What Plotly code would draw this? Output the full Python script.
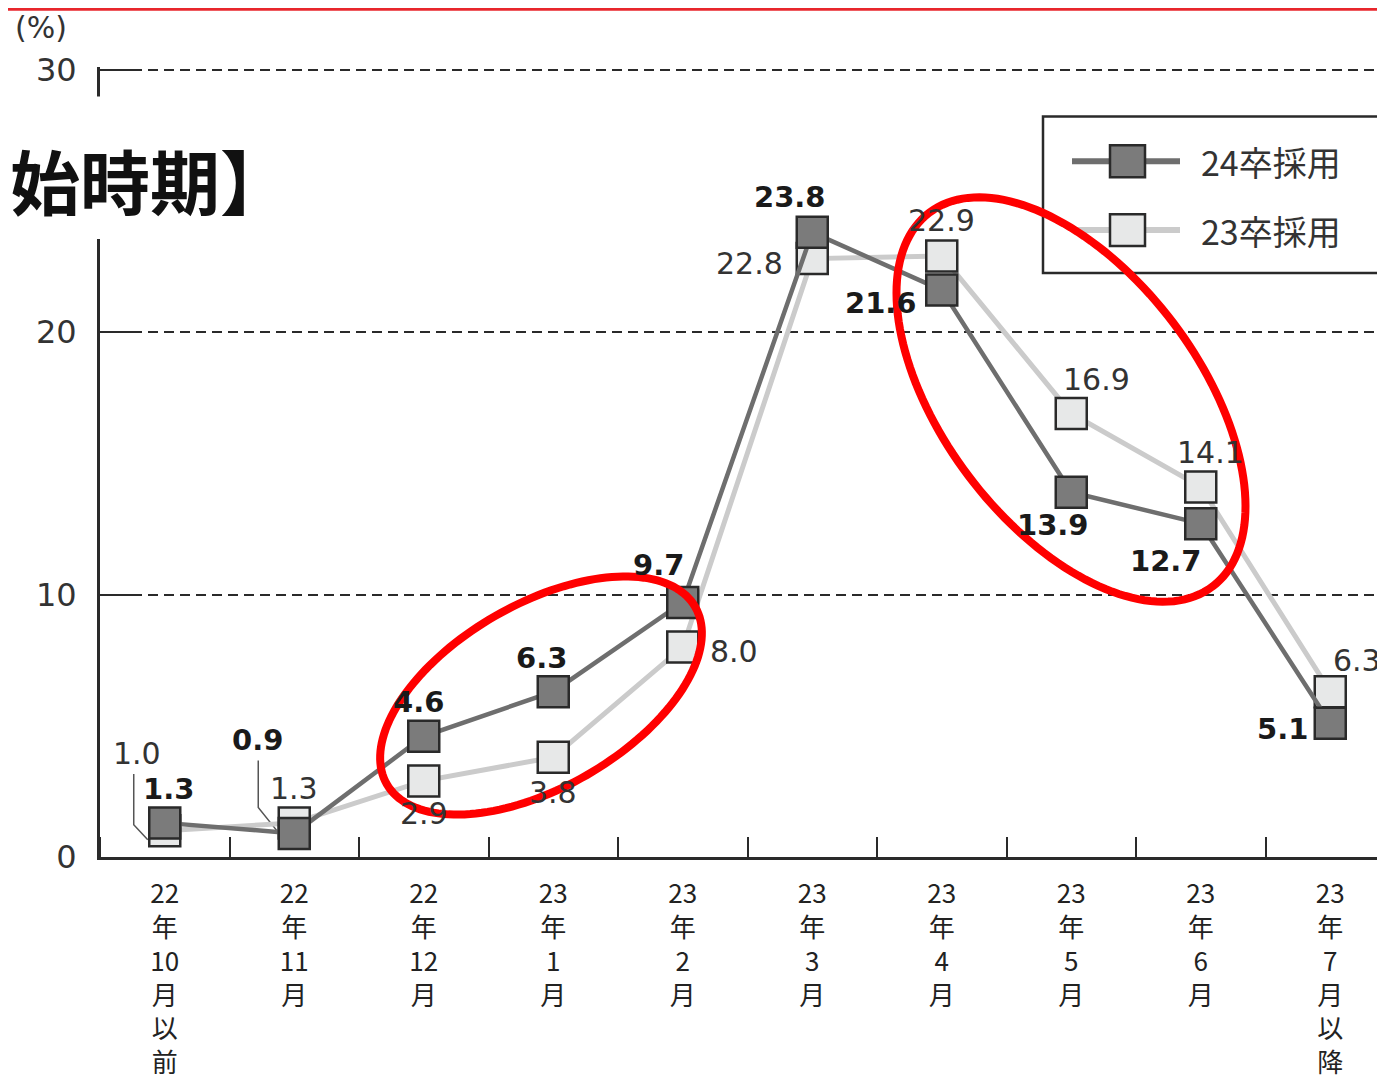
import numpy as np
import plotly.graph_objects as go

# ---------------- data ----------------
categories = [
    "22<br>年<br>10<br>月<br>以<br>前",
    "22<br>年<br>11<br>月",
    "22<br>年<br>12<br>月",
    "23<br>年<br>1<br>月",
    "23<br>年<br>2<br>月",
    "23<br>年<br>3<br>月",
    "23<br>年<br>4<br>月",
    "23<br>年<br>5<br>月",
    "23<br>年<br>6<br>月",
    "23<br>年<br>7<br>月<br>以<br>降",
]
values_24 = [1.3, 0.9, 4.6, 6.3, 9.7, 23.8, 21.6, 13.9, 12.7, 5.1]
values_23 = [1.0, 1.3, 2.9, 3.8, 8.0, 22.8, 22.9, 16.9, 14.1, 6.3]
series_names = ["24卒採用", "23卒採用"]
y_ticks = [0, 10, 20, 30]
y_unit = "(%)"
title_fragment = "始時期】"

# ---------------- layout geometry (screen pixels; page has an 8px body margin) ----------------
OFF = 8
W, H = 1385 - OFF, 1079 - OFF
X_LEFT_S, X_RIGHT_S = 100, 1385          # plot area left/right on screen
Y0_S, Y30_S = 860, 70                     # screen y of value 0 and of value 30
S = (Y0_S - Y30_S) / 30.0                 # px per unit
YMIN, YMAX = 0, 30.1
ML = X_LEFT_S - OFF
MR = 0
PW = X_RIGHT_S - X_LEFT_S
MB = H - (Y0_S - OFF)
PH = (YMAX - YMIN) * S
MT = H - MB - PH
CAT_STEP = 129.5
XMIN = -0.5
XMAX = XMIN + PW / CAT_STEP

def px_x(px):
    return (px - X_LEFT_S) / PW

def px_y(py):
    return (Y0_S - py) / PH

def data_px(i, v):
    return (X_LEFT_S + (i - XMIN) * CAT_STEP, Y0_S - (v - YMIN) * S)

DARK_LINE = "#6e6e6e"
LIGHT_LINE = "#cbcbcb"
DARK_FILL = "#7b7b7b"
LIGHT_FILL = "#e7e8e8"
EDGE = "#2a2a2a"
TXT = "#333333"

x_idx = list(range(len(categories)))

fig = go.Figure()
fig.add_trace(go.Scatter(
    x=x_idx, y=values_23, name=series_names[1], mode="lines+markers",
    line=dict(color=LIGHT_LINE, width=5),
    marker=dict(symbol="square", size=31, color=LIGHT_FILL, line=dict(color=EDGE, width=2.5)),
    showlegend=False,
))
fig.add_trace(go.Scatter(
    x=x_idx, y=values_24, name=series_names[0], mode="lines+markers",
    line=dict(color=DARK_LINE, width=4.5),
    marker=dict(symbol="square", size=31, color=DARK_FILL, line=dict(color=EDGE, width=2.5)),
    showlegend=False,
))

# label offsets (xshift, yshift in px; yshift positive = up)
off_24 = [(4, 34), (-37, 93), (-5, 34), (-12, 34), (-24, 37), (-22, 35), (-61, -13), (-18, -33), (-35, -37), (-48, -6)]
off_23 = [(-28, 77), (0, 34), (0, -33), (0, -35), (51, -4), (-63, -5), (0, 35), (25, 34), (10, 34), (27, 31)]

annotations = []
for i, v in enumerate(values_23):
    dx, dy = off_23[i]
    annotations.append(dict(x=i, y=v, xref="x", yref="y", text=f"{v:.1f}", showarrow=False,
                            xshift=dx, yshift=dy, xanchor="center", yanchor="middle",
                            font=dict(family="DejaVu Sans", size=30, color=TXT)))
for i, v in enumerate(values_24):
    dx, dy = off_24[i]
    annotations.append(dict(x=i, y=v, xref="x", yref="y", text=f"<b>{v:.1f}</b>", showarrow=False,
                            xshift=dx, yshift=dy, xanchor="center", yanchor="middle",
                            font=dict(family="DejaVu Sans", size=29, color="#1a1a1a")))

# unit label
annotations.append(dict(x=px_x(41), y=px_y(28), xref="paper", yref="paper", text=y_unit, showarrow=False,
                        xanchor="center", yanchor="middle",
                        font=dict(family="DejaVu Sans", size=30, color=TXT)))
# title fragment
annotations.append(dict(x=px_x(8), y=px_y(180), xref="paper", yref="paper", text=f"<b>{title_fragment}</b>",
                        showarrow=False, xanchor="left", yanchor="middle",
                        font=dict(family="Noto Sans CJK JP", size=70, color="#111111")))
# legend texts
for yy, name in [(162, series_names[0]), (231, series_names[1])]:
    annotations.append(dict(x=px_x(1199), y=px_y(yy), xref="paper", yref="paper", text=name,
                            showarrow=False, xanchor="left", yanchor="middle",
                            font=dict(family="Noto Sans CJK JP", size=34, color=TXT)))

shapes = []
# white patch interrupting the y axis behind title
shapes.append(dict(type="rect", xref="paper", yref="paper", x0=px_x(85), x1=px_x(115), y0=px_y(240), y1=px_y(97),
                   fillcolor="white", line=dict(width=0), layer="above"))
# red top rule (at the very top of the figure)
shapes.append(dict(type="line", xref="paper", yref="paper", x0=px_x(0), x1=px_x(1400),
                   y0=px_y(OFF + 1.5), y1=px_y(OFF + 1.5),
                   line=dict(color="#e8262c", width=3), layer="above"))

# leader lines
def leader(i, v, pts):
    cx, cy = data_px(i, v)
    path = "M " + " L ".join(f"{px_x(cx + dx):.5f},{px_y(cy + dy):.5f}" for dx, dy in pts)
    return dict(type="path", xref="paper", yref="paper", path=path, line=dict(color="#555555", width=1.5), layer="below")

shapes.append(leader(0, values_23[0], [(-31, -57), (-31, -6), (-17, 9)]))
shapes.append(leader(1, values_24[1], [(-36, -73), (-36, -26), (-16, -1)]))

# legend box
shapes.append(dict(type="rect", xref="paper", yref="paper", x0=px_x(1043), x1=px_x(1395), y0=px_y(274), y1=px_y(117),
                   line=dict(color=EDGE, width=2.5), fillcolor="rgba(0,0,0,0)", layer="above"))
for yy, lc, fc in [(162, DARK_LINE, DARK_FILL), (231, LIGHT_LINE, LIGHT_FILL)]:
    shapes.append(dict(type="line", xref="paper", yref="paper", x0=px_x(1072), x1=px_x(1180), y0=px_y(yy), y1=px_y(yy),
                       line=dict(color=lc, width=6), layer="above"))
    shapes.append(dict(type="rect", xref="paper", yref="paper", x0=px_x(1110), x1=px_x(1145),
                       y0=px_y(yy + 16), y1=px_y(yy - 16),
                       fillcolor=fc, line=dict(color=EDGE, width=2.5), layer="above"))

# red highlight ellipses
def ellipse(cx, cy, a, b, ang_deg, n=160):
    t = np.linspace(0, 2 * np.pi, n, endpoint=False)
    th = np.radians(ang_deg)
    ex = cx + a * np.cos(t) * np.cos(th) - b * np.sin(t) * np.sin(th)
    ey = cy + a * np.cos(t) * np.sin(th) + b * np.sin(t) * np.cos(th)
    path = "M " + " L ".join(f"{px_x(x):.5f},{px_y(y):.5f}" for x, y in zip(ex, ey)) + " Z"
    return dict(type="path", xref="paper", yref="paper", path=path,
                line=dict(color="#ff0000", width=8), layer="above")

shapes.append(ellipse(541, 698, 178, 92, -30))
shapes.append(ellipse(1071, 401, 235, 128, 53))

fig.update_layout(
    width=W, height=H,
    margin=dict(l=ML, r=MR, t=MT, b=MB, pad=0),
    paper_bgcolor="white", plot_bgcolor="white",
    showlegend=False,
    annotations=annotations,
    shapes=shapes,
    xaxis=dict(
        range=[XMIN, XMAX], tickmode="array", tickvals=x_idx, ticktext=categories,
        ticks="", showgrid=False, zeroline=False,
        showline=True, linecolor=EDGE, linewidth=3,
        tickfont=dict(family="Noto Sans CJK JP", size=26, color="#222222"),
        ticklabelstandoff=12,
        minor=dict(tick0=0.5, dtick=1, ticks="inside", ticklen=20, tickwidth=2, tickcolor=EDGE, showgrid=False),
    ),
    yaxis=dict(
        range=[YMIN, YMAX], tickmode="array", tickvals=y_ticks,
        ticks="inside", ticklen=40, tickwidth=2, tickcolor=EDGE,
        showline=True, linecolor=EDGE, linewidth=3, zeroline=False,
        showgrid=True, gridcolor=EDGE, gridwidth=2, griddash="10px,6px",
        tickfont=dict(family="DejaVu Sans", size=32, color=TXT),
        ticklabelstandoff=14,
    ),
)

fig.write_html("out.html")
